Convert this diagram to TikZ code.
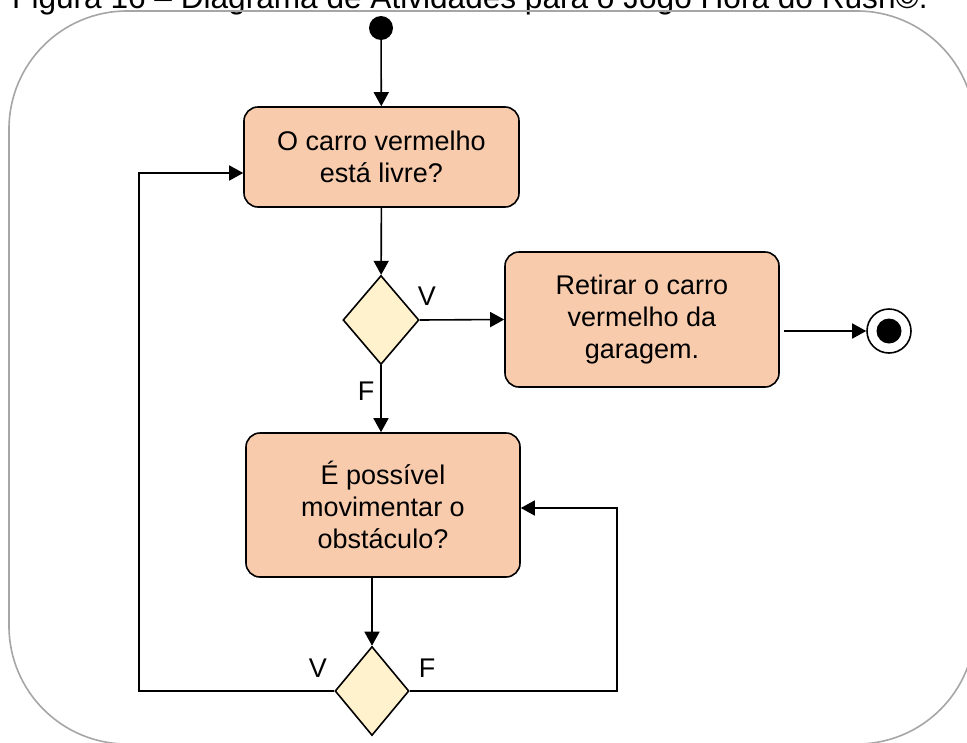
\documentclass[tikz,border=0pt]{standalone}
\usepackage{fontspec}
\setmainfont{Liberation Sans}
\usetikzlibrary{shapes.geometric,arrows.meta}
\definecolor{peach}{HTML}{F8CBAD}
\definecolor{cream}{HTML}{FFF2CC}
\definecolor{frame}{HTML}{A6A6A6}
\begin{document}
\begin{tikzpicture}[x=1pt,y=-1pt,
  lbl/.style={font=\fontsize{27}{32}\selectfont},
  actbox/.style={draw,line width=1.6pt,fill=peach,rounded corners=14pt,align=center,
    inner sep=0pt,font=\fontsize{27}{32}\selectfont},
  dec/.style={draw,line width=1.6pt,fill=cream,shape=diamond,inner sep=0pt},
  arr/.style={line width=1.6pt,-{Triangle[length=14pt,width=15pt]}},
  ln/.style={line width=1.6pt}]
\useasboundingbox (0,0) rectangle (967,742);
\clip (0,0) rectangle (967,742);
\fill[white] (0,0) rectangle (967,742);
\node[anchor=base west,inner sep=0pt,font=\fontsize{31.6}{36}\selectfont] (title) at (12,8)
  {Figura 16 – Diagrama de Atividades para o Jogo Hora do Rush©.};
\draw[frame,line width=1.6pt,rounded corners=118pt] (9,11) rectangle (975,744);

\node[circle,fill=black,minimum size=24pt,inner sep=0pt] (start) at (381,28) {};
\node[actbox,minimum width=275pt,minimum height=100pt] (box1) at (381.5,157)
  {O carro vermelho\\está livre?};
\node[dec,minimum width=76pt,minimum height=89pt] (d1) at (381,320) {};
\node[actbox,minimum width=274pt,minimum height=135pt] (box2) at (642,319.5)
  {Retirar o carro\\vermelho da\\garagem.};
\node[circle,draw,line width=1.6pt,minimum size=44pt,inner sep=0pt] (fin) at (889,331) {};
\node[circle,fill=black,minimum size=25pt,inner sep=0pt] (finin) at (fin) {};
\node[actbox,minimum width=274pt,minimum height=144pt] (box3) at (383,505)
  {É possível\\movimentar o\\obstáculo?};
\node[dec,minimum width=74pt,minimum height=89pt] (d2) at (372,691) {};

\node[lbl] (v1) at (427,296) {V};
\node[lbl] (f1) at (366,391) {F};
\node[lbl] (v2) at (318,668) {V};
\node[lbl] (f2) at (427,668) {F};

\coordinate (l1) at (139,173);
\coordinate (r1) at (617,508);

\draw[arr] (start) -- (box1);
\draw[arr] (box1) -- (d1);
\draw[arr] (d1.east) -- (box2.west);
\draw[arr,shorten <=4pt] (box2.east |- fin) -- (fin.west);
\draw[arr] (d1.south) -- (d1.south |- box3.north);
\draw[arr] (box3.south -| d2) -- (d2.north);
\draw[arr] (d2.west) -| (l1) -- (l1 -| box1.west);
\draw[arr] (d2.east) -| (r1) -- (r1 -| box3.east);
\end{tikzpicture}
\end{document}
